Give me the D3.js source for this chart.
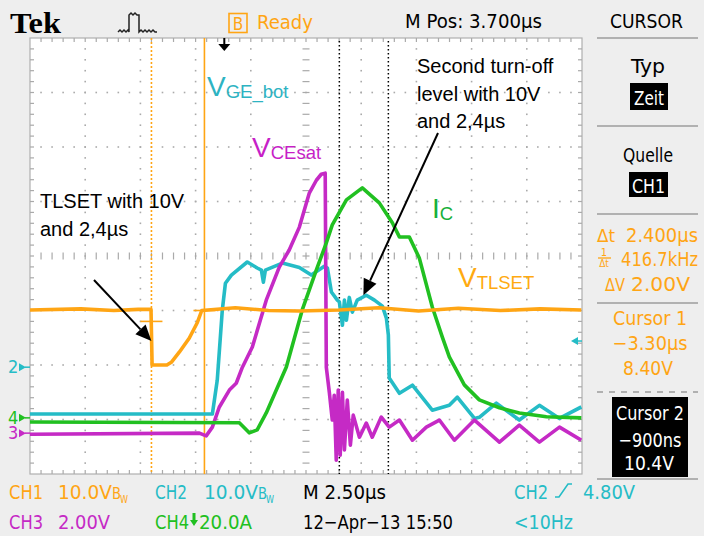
<!DOCTYPE html>
<html>
<head>
<meta charset="utf-8">
<script src="https://cdn.jsdelivr.net/npm/d3@7"></script>
<style>
html, body { margin: 0; padding: 0; background: #eeeeee; }
svg { display: block; }
text { font-family: "Liberation Sans Narrow", "DejaVu Sans Condensed", sans-serif; }
text.note { font-family: "Liberation Sans", Arial, sans-serif; }
</style>
</head>
<body>
<div id="scope"></div>
<script>
const W = 704, H = 536;

// Horizontal: 2.5 us/div, M Pos 3.700 us at screen centre
const timePerDiv = 2.5;
const mPos = 3.7;

// Channel settings
const chPerDiv = [10, 10, 2, 20];
const chGroundDiv = [-2.04, -2.04, -3.25, -2.97];
const chColors = ['#ffa514', '#25bcc6', '#c52ac5', '#21c021'];
const markerChannels = [1, 3, 2]; // "2", "4", "3" arrows on the left

// CH1 - V_TLSET (V)
const ch1Time = [-8.83, -6.5, -5.0, -3.9, -3.32, -3.27, -2.60, -2.40, -2.04, -1.59, -1.22, -1.02, 0.5, 2.0, 3.4, 5.2, 7.0, 8.8, 10.6, 12.5, 14.3, 16.17];
const ch1Volt = [10.5, 10.7, 10.4, 10.6, 10.6, 0.4, 0.4, 0.9, 2.75, 5.3, 8.2, 10.4, 10.9, 10.4, 10.3, 10.5, 10.9, 10.3, 10.8, 10.4, 10.7, 10.5];

// CH2 - V_GE_bot (V)
const ch2Time = [-8.83, -0.54, -0.32, -0.09, 0.05, 0.32, 1.04, 1.49, 1.68, 1.77, 1.86, 2.63, 3.40, 3.94, 4.53, 4.67, 4.85, 5.12, 5.21, 5.35, 5.44, 5.53, 5.66, 5.80, 6.02, 6.43, 6.80, 7.16, 7.34, 7.43, 7.47, 7.93, 8.52, 9.42, 10.19, 10.55, 11.33, 11.55, 12.32, 13.36, 14.27, 15.18, 16.17];
const ch2Volt = [-8.6, -8.6, -2.4, 10.5, 15.4, 16.9, 19.3, 18.2, 17.8, 15.6, 17.8, 19.1, 18.3, 16.9, 18.5, 18.2, 13.8, 12.3, 12.0, 7.7, 12.3, 8.6, 12.8, 10.1, 12.3, 13.2, 12.3, 11.2, 9.0, 5.9, -2.0, -4.8, -3.3, -7.9, -7.0, -5.5, -9.4, -9.2, -6.6, -9.7, -7.0, -9.4, -7.3];

// CH3 - V_CEsat (V)
const ch3Time = [-8.83, -1.13, -0.82, -0.54, -0.23, 0.23, 0.54, 0.82, 1.27, 1.90, 2.49, 2.94, 3.40, 3.85, 4.17, 4.39, 4.57, 4.62, 4.76, 4.89, 4.98, 5.07, 5.16, 5.25, 5.35, 5.44, 5.57, 5.71, 5.84, 6.12, 6.43, 6.70, 7.11, 7.47, 7.93, 8.52, 9.15, 9.74, 10.42, 11.33, 12.46, 13.36, 14.27, 15.18, 16.17];
const ch3Volt = [-0.04, 0, -0.1, 0.22, 0.95, 1.58, 1.83, 2.42, 3.16, 4.88, 6.09, 6.72, 7.56, 8.81, 9.28, 9.5, 9.54, 2.42, 1.47, 0.48, 1.39, -0.99, 1.58, -0.81, 1.5, -0.62, 1.21, -0.44, 0.66, -0.15, 0.37, -0.15, 0.59, 0.22, 0.48, -0.26, 0.22, 0.48, -0.26, 0.48, -0.33, 0.29, -0.33, 0.22, -0.26];

// CH4 - I_C (A)
const ch4Time = [-8.83, 0.68, 1.13, 1.49, 1.90, 2.81, 3.53, 4.17, 4.62, 4.89, 5.53, 6.25, 7.02, 7.61, 7.93, 8.38, 8.83, 9.42, 9.87, 10.19, 10.87, 11.55, 12.46, 13.36, 14.59, 16.17];
const ch4Amp = [-1.5, -1.8, -5.5, -4.4, 1.8, 18.7, 39.6, 54.3, 64.2, 70.8, 80.0, 84.4, 78.9, 71.6, 66.4, 66.4, 58.7, 40.7, 29.7, 22.4, 12.1, 6.6, 3.7, 1.8, 0.4, 0.0];

// Cursors (CH1), trigger and the two black dotted marker lines
const cursorTimes = [-3.30, -0.90];
const cursorVolts = [8.40, 10.4];
const triggerLevel = 4.80;
const markerTimes = [5.21, 7.43];

// Text of the readouts
const topTexts = ['Ready', 'M Pos: 3.700\u00b5s', 'CURSOR'];
const panelTexts = ['Typ', 'Zeit', 'Quelle', 'CH1'];
const deltaTexts = ['2.400\u00b5s', '416.7kHz', '2.00V'];
const cursor1Texts = ['Cursor 1', '\u22123.30\u00b5s', '8.40V'];
const cursor2Texts = ['Cursor 2', '\u2212900ns', '10.4V'];

const svg = d3.select('#scope').append('svg').attr('width', W).attr('height', H);
svg.append('rect').attr('width', W).attr('height', H).attr('fill', '#eeeeee');

const frame = { left: 30, right: 582, top: 38, bottom: 474 };

const x = d3.scaleLinear()
    .domain([mPos - 5 * timePerDiv, mPos + 5 * timePerDiv])
    .range([frame.left, frame.right]);
const xDiv = d3.scaleLinear().domain([0, 10]).range([frame.left, frame.right]);
const yDiv = d3.scaleLinear().domain([-4, 4]).range([frame.bottom, frame.top]);
const chY = ch => v => yDiv(chGroundDiv[ch] + v / chPerDiv[ch]);

// Graticule
svg.append('rect')
    .attr('x', frame.left).attr('y', frame.top)
    .attr('width', frame.right - frame.left).attr('height', frame.bottom - frame.top)
    .attr('fill', '#ffffff').attr('stroke', '#b0b0b0').attr('stroke-width', 1.2);

const grat = svg.append('g').attr('fill', '#aaaaaa');
const minorX = d3.range(0.2, 9.9, 0.2);
const minorY = d3.range(-3.8, 3.9, 0.2);
// border ticks
minorX.forEach(d => {
    grat.append('rect').attr('x', xDiv(d) - 0.6).attr('y', frame.top).attr('width', 1.2).attr('height', 4);
    grat.append('rect').attr('x', xDiv(d) - 0.6).attr('y', frame.bottom - 4).attr('width', 1.2).attr('height', 4);
    // centre horizontal line ticks
    grat.append('rect').attr('x', xDiv(d) - 0.6).attr('y', yDiv(0) - 3.5).attr('width', 1.2).attr('height', 7);
});
minorY.forEach(d => {
    grat.append('rect').attr('x', frame.left).attr('y', yDiv(d) - 0.6).attr('width', 4).attr('height', 1.2);
    grat.append('rect').attr('x', frame.right - 4).attr('y', yDiv(d) - 0.6).attr('width', 4).attr('height', 1.2);
    grat.append('rect').attr('x', xDiv(5) - 3.5).attr('y', yDiv(d) - 0.6).attr('width', 7).attr('height', 1.2);
});
// dotted division lines
[1, 2, 3, 4, 6, 7, 8, 9].forEach(c => {
    minorY.forEach(d => grat.append('rect').attr('x', xDiv(c) - 0.8).attr('y', yDiv(d) - 0.8).attr('width', 1.6).attr('height', 1.6));
});
[-3, -2, -1, 1, 2, 3].forEach(r => {
    minorX.forEach(d => grat.append('rect').attr('x', xDiv(d) - 0.8).attr('y', yDiv(r) - 0.8).attr('width', 1.6).attr('height', 1.6));
});

svg.append('clipPath').attr('id', 'screen')
    .append('rect')
    .attr('x', frame.left).attr('y', frame.top)
    .attr('width', frame.right - frame.left).attr('height', frame.bottom - frame.top);

// Black dotted marker lines
markerTimes.forEach(t => {
    svg.append('line')
        .attr('x1', x(t)).attr('x2', x(t)).attr('y1', frame.top + 3).attr('y2', frame.bottom)
        .attr('stroke', '#000').attr('stroke-width', 1.5).attr('stroke-dasharray', '1.5,2.5');
});

// Cursor lines
cursorTimes.forEach((t, i) => {
    const l = svg.append('line')
        .attr('x1', x(t)).attr('x2', x(t)).attr('y1', frame.top).attr('y2', frame.bottom)
        .attr('stroke', chColors[0]).attr('stroke-width', 1.6);
    if (i == 0) l.attr('stroke-dasharray', '2,2');
    svg.append('line')
        .attr('x1', x(t) - 11).attr('x2', x(t) + 11)
        .attr('y1', chY(0)(cursorVolts[i])).attr('y2', chY(0)(cursorVolts[i]))
        .attr('stroke', chColors[0]).attr('stroke-width', 1.6);
});

// Traces
const traces = [
    { ch: 1, t: ch2Time, v: ch2Volt },
    { ch: 2, t: ch3Time, v: ch3Volt },
    { ch: 3, t: ch4Time, v: ch4Amp },
    { ch: 0, t: ch1Time, v: ch1Volt },
];
const traceLayer = svg.append('g').attr('clip-path', 'url(#screen)');
traces.forEach(tr => {
    const yy = chY(tr.ch);
    const line = d3.line()
        .x(d => x(d[0]))
        .y(d => yy(d[1]));
    traceLayer.append('path')
        .attr('d', line(d3.zip(tr.t, tr.v)))
        .attr('fill', 'none')
        .attr('stroke', chColors[tr.ch])
        .attr('stroke-width', 3.6)
        .attr('stroke-linejoin', 'round');
});

// Trigger position arrow (top) and trigger level (right)
const tx = x(0);
svg.append('line').attr('x1', tx).attr('x2', tx).attr('y1', frame.top).attr('y2', frame.top + 7)
    .attr('stroke', '#000').attr('stroke-width', 2);
svg.append('path').attr('d', `M${tx - 6},${frame.top + 6} L${tx + 6},${frame.top + 6} L${tx},${frame.top + 13} Z`).attr('fill', '#000');
const ty = chY(1)(triggerLevel);
svg.append('path').attr('d', `M${frame.right - 11},${ty} L${frame.right - 4},${ty - 4} L${frame.right - 4},${ty + 4} Z`).attr('fill', chColors[1]);
svg.append('line').attr('x1', frame.right - 5).attr('x2', frame.right).attr('y1', ty).attr('y2', ty)
    .attr('stroke', chColors[1]).attr('stroke-width', 1.5);

// Channel ground markers on the left
markerChannels.forEach(ch => {
    const gy = yDiv(chGroundDiv[ch]);
    svg.append('text').attr('x', 8).attr('y', gy + 6).text(String(ch + 1))
        .attr('font-size', 18).attr('fill', chColors[ch]);
    svg.append('path').attr('d', `M19,${gy - 4} L26,${gy} L19,${gy + 4} Z`).attr('fill', chColors[ch]);
    svg.append('line').attr('x1', 25).attr('x2', frame.left).attr('y1', gy).attr('y2', gy)
        .attr('stroke', chColors[ch]).attr('stroke-width', 1.5);
});

// Annotations
function arrow(x1, y1, x2, y2) {
    const a = Math.atan2(y2 - y1, x2 - x1);
    const len = 16, half = 7;
    const bx = x2 - len * Math.cos(a), by = y2 - len * Math.sin(a);
    svg.append('line').attr('x1', x1).attr('y1', y1).attr('x2', bx).attr('y2', by)
        .attr('stroke', '#000').attr('stroke-width', 2);
    svg.append('path')
        .attr('d', `M${x2},${y2} L${bx + half * Math.sin(a)},${by - half * Math.cos(a)} L${bx - half * Math.sin(a)},${by + half * Math.cos(a)} Z`)
        .attr('fill', '#000');
}
arrow(94, 280, x(cursorTimes[0]), chY(0)(4.8));
arrow(438, 133, x(6.3), chY(1)(13.2));

function subLabel(str, sub, px, py, color) {
    const t = svg.append('text').attr('class', 'note').attr('x', px).attr('y', py).attr('fill', color);
    t.append('tspan').attr('font-size', 28).text(str);
    t.append('tspan').attr('font-size', 18.5).attr('dy', 2).text(sub);
}
subLabel('V', 'GE_bot', 207, 96, '#2db3c2');
subLabel('V', 'CEsat', 252, 157, '#c71fc7');
subLabel('I', 'C', 432, 218, '#16b03a');
subLabel('V', 'TLSET', 458, 287, '#ffaa10');

function noteLines(lines, px, py) {
    lines.forEach((s, i) => {
        svg.append('text').attr('class', 'note').attr('x', px).attr('y', py + i * 27.5)
            .attr('font-size', 20).attr('fill', '#000').text(s);
    });
}
noteLines(['TLSET with 10V', 'and 2,4\u00b5s'], 40, 208);
noteLines(['Second turn-off', 'level with 10V', 'and 2,4\u00b5s'], 417, 73);

// Scope readout text
function label(str, px, py, o = {}) {
    const t = svg.append('text').attr('x', px).attr('y', py).text(str)
        .attr('font-size', o.size || 20).attr('fill', o.fill || '#000');
    if (o.anchor) t.attr('text-anchor', o.anchor);
    if (o.len) t.attr('textLength', o.len).attr('lengthAdjust', 'spacingAndGlyphs');
    return t;
}

// top bar
svg.append('text').attr('x', 10).attr('y', 33).text('Tek')
    .style('font-family', '"Liberation Serif", "DejaVu Serif", serif')
    .attr('font-size', 30).attr('font-weight', 'bold')
    .attr('textLength', 51).attr('lengthAdjust', 'spacingAndGlyphs');
svg.append('path')
    .attr('d', 'M118,32 l2,-2 l2,2 l2,-2 l2,2 l2,-2 L129,32 L129,15 l2,-2 l2,2 l2,-2 l2,2 L139,15 L139,32 l2,-2 l2,2 l2,-2 l2,2 l2,-2 l2,2 l2,-2 l2,2 L157,32')
    .attr('fill', 'none').attr('stroke', '#222').attr('stroke-width', 1.5);
svg.append('rect').attr('x', 229).attr('y', 13.5).attr('width', 18).attr('height', 19)
    .attr('fill', 'none').attr('stroke', chColors[0]).attr('stroke-width', 1.6);
label('B', 238, 30, { fill: chColors[0], anchor: 'middle', size: 17 });
label(topTexts[0], 257, 29, { fill: chColors[0], len: 56 });
label(topTexts[1], 405, 28, { len: 137 });
label(topTexts[2], 610, 28, { len: 73 });

// right panel
const sep = (y1, dashed) => {
    const l = svg.append('line').attr('x1', 597).attr('x2', 698).attr('y1', y1).attr('y2', y1)
        .attr('stroke', '#9c9c9c').attr('stroke-width', 1.5);
    if (dashed) l.attr('stroke-dasharray', '6,6');
};
sep(38); sep(126); sep(214); sep(303); sep(392, true); sep(479);
label(panelTexts[0], 648, 73, { anchor: 'middle', len: 34 });
svg.append('rect').attr('x', 630).attr('y', 83).attr('width', 38).attr('height', 27).attr('fill', '#000');
label(panelTexts[1], 649, 105, { anchor: 'middle', fill: '#fff', len: 30 });
label(panelTexts[2], 648, 162, { anchor: 'middle', len: 50 });
svg.append('rect').attr('x', 629).attr('y', 172).attr('width', 39).attr('height', 25).attr('fill', '#000');
label(panelTexts[3], 648.5, 193, { anchor: 'middle', fill: '#fff', len: 33 });

const orange = chColors[0];
label('\u0394t', 597, 242, { fill: orange, len: 18, size: 18 });
label(deltaTexts[0], 626, 242, { fill: orange, len: 72 });
label('1', 604, 256, { fill: orange, anchor: 'middle', size: 11 });
svg.append('line').attr('x1', 598).attr('x2', 611).attr('y1', 258).attr('y2', 258).attr('stroke', orange).attr('stroke-width', 1.3);
label('\u0394t', 604, 267, { fill: orange, anchor: 'middle', size: 10 });
label(deltaTexts[1], 621, 266, { fill: orange, len: 77 });
label('\u0394V', 605, 291, { fill: orange, len: 20, size: 18 });
label(deltaTexts[2], 631, 291, { fill: orange, len: 59 });

label(cursor1Texts[0], 650, 325, { anchor: 'middle', fill: orange, len: 74 });
label(cursor1Texts[1], 650, 350, { anchor: 'middle', fill: orange, len: 75 });
label(cursor1Texts[2], 648, 375, { anchor: 'middle', fill: orange, len: 50 });
svg.append('rect').attr('x', 612).attr('y', 397).attr('width', 76).attr('height', 80).attr('fill', '#000');
label(cursor2Texts[0], 650, 420, { anchor: 'middle', fill: '#fff', len: 68 });
label(cursor2Texts[1], 650, 447, { anchor: 'middle', fill: '#fff', len: 63 });
label(cursor2Texts[2], 649, 470, { anchor: 'middle', fill: '#fff', len: 50 });

// bottom bar
const [c1, c2, c3, c4] = chColors;
function bw(px, py, color) {
    label('B', px, py, { fill: color, size: 15, len: 9 });
    label('W', px + 8, py + 4, { fill: color, size: 10, len: 8 });
}
label('CH1', 9, 499, { fill: c1, len: 34 });
label('10.0V', 58, 499, { fill: c1, len: 54 });
bw(112, 499, c1);
label('CH2', 155, 499, { fill: c2, len: 32 });
label('10.0V', 204, 499, { fill: c2, len: 54 });
bw(258, 499, c2);
label('M 2.50\u00b5s', 303, 499, { len: 83 });
label('CH2', 514, 499, { fill: c2, len: 34 });
svg.append('path').attr('d', 'M555,497 L559,497 L568,484 L572,484').attr('fill', 'none').attr('stroke', c2).attr('stroke-width', 1.6);
label('4.80V', 583, 499, { fill: c2, len: 52 });

label('CH3', 9, 529, { fill: c3, len: 34 });
label('2.00V', 58, 529, { fill: c3, len: 52 });
label('CH4', 155, 529, { fill: c4, len: 34 });
svg.append('path').attr('d', 'M190,520 L198,520 L194,526 Z M192.5,513 L195.5,513 L195.5,520 L192.5,520 Z').attr('fill', c4);
label('20.0A', 199, 529, { fill: c4, len: 53 });
label('12\u2212Apr\u221213 15:50', 303, 529, { len: 150 });
label('<10Hz', 514, 529, { fill: c2, len: 59 });
</script>
</body>
</html>
